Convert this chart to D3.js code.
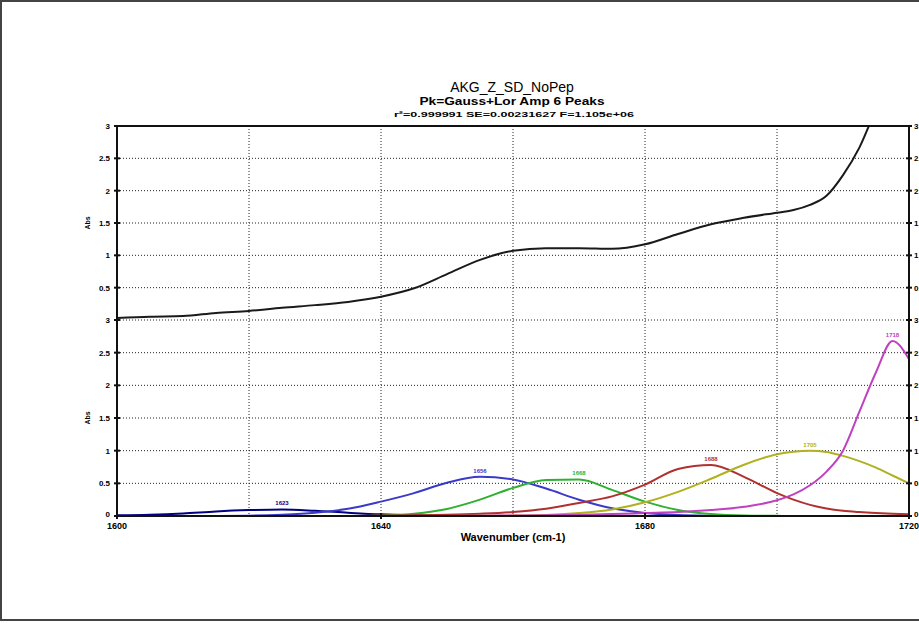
<!DOCTYPE html>
<html>
<head>
<meta charset="utf-8">
<script src="https://cdn.jsdelivr.net/npm/d3@7"></script>
<style>
  body { margin: 0; background: #fff; }
  svg { display: block; font-family: "Liberation Sans", Arial, sans-serif; }
</style>
</head>
<body>
<svg id="chart"></svg>
<script>
const width = 919;
const height = 623;

// wavenumber samples (denser near the last peak)
const wavenumbers = [1600,1605,1610,1615,1620,1625,1630,1635,1640,1645,1650,1655,1660,1665,1670,1675,1680,1685,1690,1695,1700,1702.5,1705,1707.5,1710,1712.5,1715,1717.5,1720];

// upper panel: data / fit
const spectrum = [0.03,0.05,0.06,0.11,0.14,0.19,0.23,0.28,0.36,0.49,0.71,0.93,1.07,1.11,1.11,1.10,1.17,1.33,1.48,1.58,1.66,1.70,1.78,1.92,2.24,2.67,3.25,3.7,4.0];

// lower panel: fitted peaks
const peak1 = [0.01,0.02,0.04,0.07,0.09,0.1,0.08,0.05,0.025,0.012,0.005,0.002,0,0,0,0,0,0,0,0,0,0,0,0,0,0,0,0,0];
const peak2 = [0,0,0,0.001,0.005,0.02,0.05,0.11,0.22,0.35,0.51,0.6,0.56,0.42,0.25,0.12,0.047,0.015,0.004,0,0,0,0,0,0,0,0,0,0];
const peak3 = [0,0,0,0,0,0,0,0,0.009,0.036,0.108,0.25,0.43,0.55,0.56,0.40,0.22,0.093,0.03,0.007,0.002,0,0,0,0,0,0,0,0];
const peak4 = [0,0,0,0,0,0,0,0,0.006,0.012,0.02,0.035,0.06,0.11,0.2,0.3,0.48,0.72,0.78,0.6,0.35,0.25,0.17,0.115,0.08,0.06,0.045,0.033,0.025];
const peak5 = [0,0,0,0,0,0,0,0,0,0,0,0.002,0.006,0.017,0.045,0.10,0.21,0.37,0.57,0.785,0.945,0.985,1.0,0.98,0.92,0.84,0.74,0.62,0.5];
const peak6 = [0,0,0,0,0,0,0,0,0,0,0,0.004,0.008,0.012,0.02,0.03,0.045,0.06,0.09,0.14,0.24,0.33,0.47,0.68,1.0,1.6,2.2,2.68,2.4];

const peakSeries = [peak1, peak2, peak3, peak4, peak5, peak6];
const peakColors = ["#000080", "#3a3ac8", "#30b030", "#b03030", "#b0b020", "#c040c0"];
const peakLabels = ["1623", "1656", "1668", "1688", "1705", "1718"];

const xTickValues = [1600, 1640, 1680, 1720];
const xGridValues = [1620, 1640, 1660, 1680, 1700];
const yTickValues = [0, 0.5, 1, 1.5, 2, 2.5, 3];

const titleText = "AKG_Z_SD_NoPep";
const subtitleText = "Pk=Gauss+Lor Amp 6 Peaks";
const statsText = "r\u00b2=0.999991  SE=0.00231627  F=1.105e+06";

const svg = d3.select("#chart").attr("width", width).attr("height", height);

// outer page frame
svg.append("rect")
    .attr("x", 1).attr("y", 1)
    .attr("width", width + 5).attr("height", height - 4)
    .attr("fill", "none")
    .attr("stroke", "#444")
    .attr("stroke-width", 2);

const pLeft = 117, pRight = 909, pTop = 126, pMid = 320, pBottom = 516;

const x = d3.scaleLinear().domain([1600, 1720]).range([pLeft, pRight]);
const yTop = d3.scaleLinear().domain([0, 3]).range([pMid, pTop]);
const yBot = d3.scaleLinear().domain([0, 3]).range([pBottom, pMid]);

const defs = svg.append("defs");
defs.append("clipPath").attr("id", "clip-top")
    .append("rect").attr("x", pLeft).attr("y", pTop).attr("width", pRight - pLeft).attr("height", pMid - pTop);
defs.append("clipPath").attr("id", "clip-bot")
    .append("rect").attr("x", pLeft).attr("y", pMid).attr("width", pRight - pLeft).attr("height", pBottom - pMid);

// grid
const grid = svg.append("g").attr("class", "grid")
    .attr("stroke", "#222").attr("stroke-width", 1).attr("stroke-dasharray", "1,2");

grid.selectAll("line.v")
    .data(xGridValues)
    .enter().append("line")
    .attr("x1", d => x(d)).attr("x2", d => x(d))
    .attr("y1", pTop).attr("y2", pBottom);

[yTop, yBot].forEach(y => {
    grid.append("g").selectAll("line")
        .data(yTickValues.filter(v => v > 0 && v < 3))
        .enter().append("line")
        .attr("x1", pLeft).attr("x2", pRight)
        .attr("y1", d => y(d)).attr("y2", d => y(d));
});
// panel divider
grid.append("line")
    .attr("x1", pLeft).attr("x2", pRight)
    .attr("y1", pMid).attr("y2", pMid);

// curves
const line = (y) => d3.line()
    .x((d, i) => x(wavenumbers[i]))
    .y(d => y(d))
    .curve(d3.curveMonotoneX);

svg.append("g").attr("clip-path", "url(#clip-top)")
    .append("path")
    .datum(spectrum)
    .attr("d", line(yTop))
    .attr("fill", "none")
    .attr("stroke", "#1a1a1a")
    .attr("stroke-width", 2);

const peaksG = svg.append("g").attr("clip-path", "url(#clip-bot)");
peaksG.selectAll("path")
    .data(peakSeries)
    .enter().append("path")
    .attr("d", d => line(yBot)(d))
    .attr("fill", "none")
    .attr("stroke", (d, i) => peakColors[i])
    .attr("stroke-width", 2);

// peak labels, placed at each peak's maximum
svg.append("g").selectAll("text")
    .data(peakSeries)
    .enter().append("text")
    .attr("x", d => x(wavenumbers[d3.maxIndex(d)]))
    .attr("y", d => yBot(d3.max(d)) - 4)
    .attr("text-anchor", "middle")
    .style("font-size", "6px")
    .style("font-weight", "bold")
    .attr("fill", (d, i) => peakColors[i])
    .text((d, i) => peakLabels[i]);

// frame
svg.append("rect")
    .attr("x", pLeft).attr("y", pTop)
    .attr("width", pRight - pLeft).attr("height", pBottom - pTop)
    .attr("fill", "none")
    .attr("stroke", "#111").attr("stroke-width", 2);

// axis ticks and labels
const axisG = svg.append("g");
[yTop, yBot].forEach((y, k) => {
    const vals = k === 0 ? yTickValues.filter(v => v > 0) : yTickValues;
    vals.forEach(v => {
        const ty = y(v) + (v === 0 ? 1 : 3);
        axisG.append("line")
            .attr("x1", pLeft - 3).attr("x2", pLeft + 3)
            .attr("y1", y(v)).attr("y2", y(v))
            .attr("stroke", "#111").attr("stroke-width", 2);
        axisG.append("line")
            .attr("x1", pRight - 3).attr("x2", pRight + 3)
            .attr("y1", y(v)).attr("y2", y(v))
            .attr("stroke", "#111").attr("stroke-width", 2);
        axisG.append("text")
            .attr("x", pLeft - 7).attr("y", ty)
            .attr("text-anchor", "end")
            .style("font-size", "8px").style("font-weight", "bold")
            .text(d3.format("~g")(v));
        // right-hand labels run off the page, as in the original
        axisG.append("text")
            .attr("x", pRight + 5).attr("y", ty)
            .attr("text-anchor", "start")
            .style("font-size", "8px").style("font-weight", "bold")
            .text(d3.format("~g")(v));
    });
});

xTickValues.forEach(v => {
    axisG.append("line")
        .attr("x1", x(v)).attr("x2", x(v))
        .attr("y1", pBottom - 3).attr("y2", pBottom + 3)
        .attr("stroke", "#111").attr("stroke-width", 2);
    axisG.append("text")
        .attr("x", x(v)).attr("y", pBottom + 13)
        .attr("text-anchor", "middle")
        .style("font-size", "9px").style("font-weight", "bold")
        .text(v);
});

// axis titles
svg.append("text")
    .attr("x", (pLeft + pRight) / 2).attr("y", 541)
    .attr("text-anchor", "middle")
    .style("font-size", "11px").style("font-weight", "bold")
    .text("Wavenumber (cm-1)");

[yTop, yBot].forEach(y => {
    svg.append("text")
        .attr("transform", `translate(90,${y(1.5)}) rotate(-90)`)
        .attr("text-anchor", "middle")
        .style("font-size", "7px").style("font-weight", "bold")
        .text("Abs");
});

// titles
svg.append("text")
    .attr("x", 512).attr("y", 92)
    .attr("text-anchor", "middle")
    .style("font-size", "14px")
    .text(titleText);
svg.append("text")
    .attr("x", 512).attr("y", 105)
    .attr("text-anchor", "middle")
    .attr("textLength", 185)
    .attr("lengthAdjust", "spacingAndGlyphs")
    .style("font-size", "10px").style("font-weight", "bold")
    .text(subtitleText);
svg.append("text")
    .attr("x", 514).attr("y", 117)
    .attr("text-anchor", "middle")
    .attr("textLength", 240)
    .attr("lengthAdjust", "spacingAndGlyphs")
    .style("font-size", "8px").style("font-weight", "bold")
    .text(statsText);
</script>
</body>
</html>
